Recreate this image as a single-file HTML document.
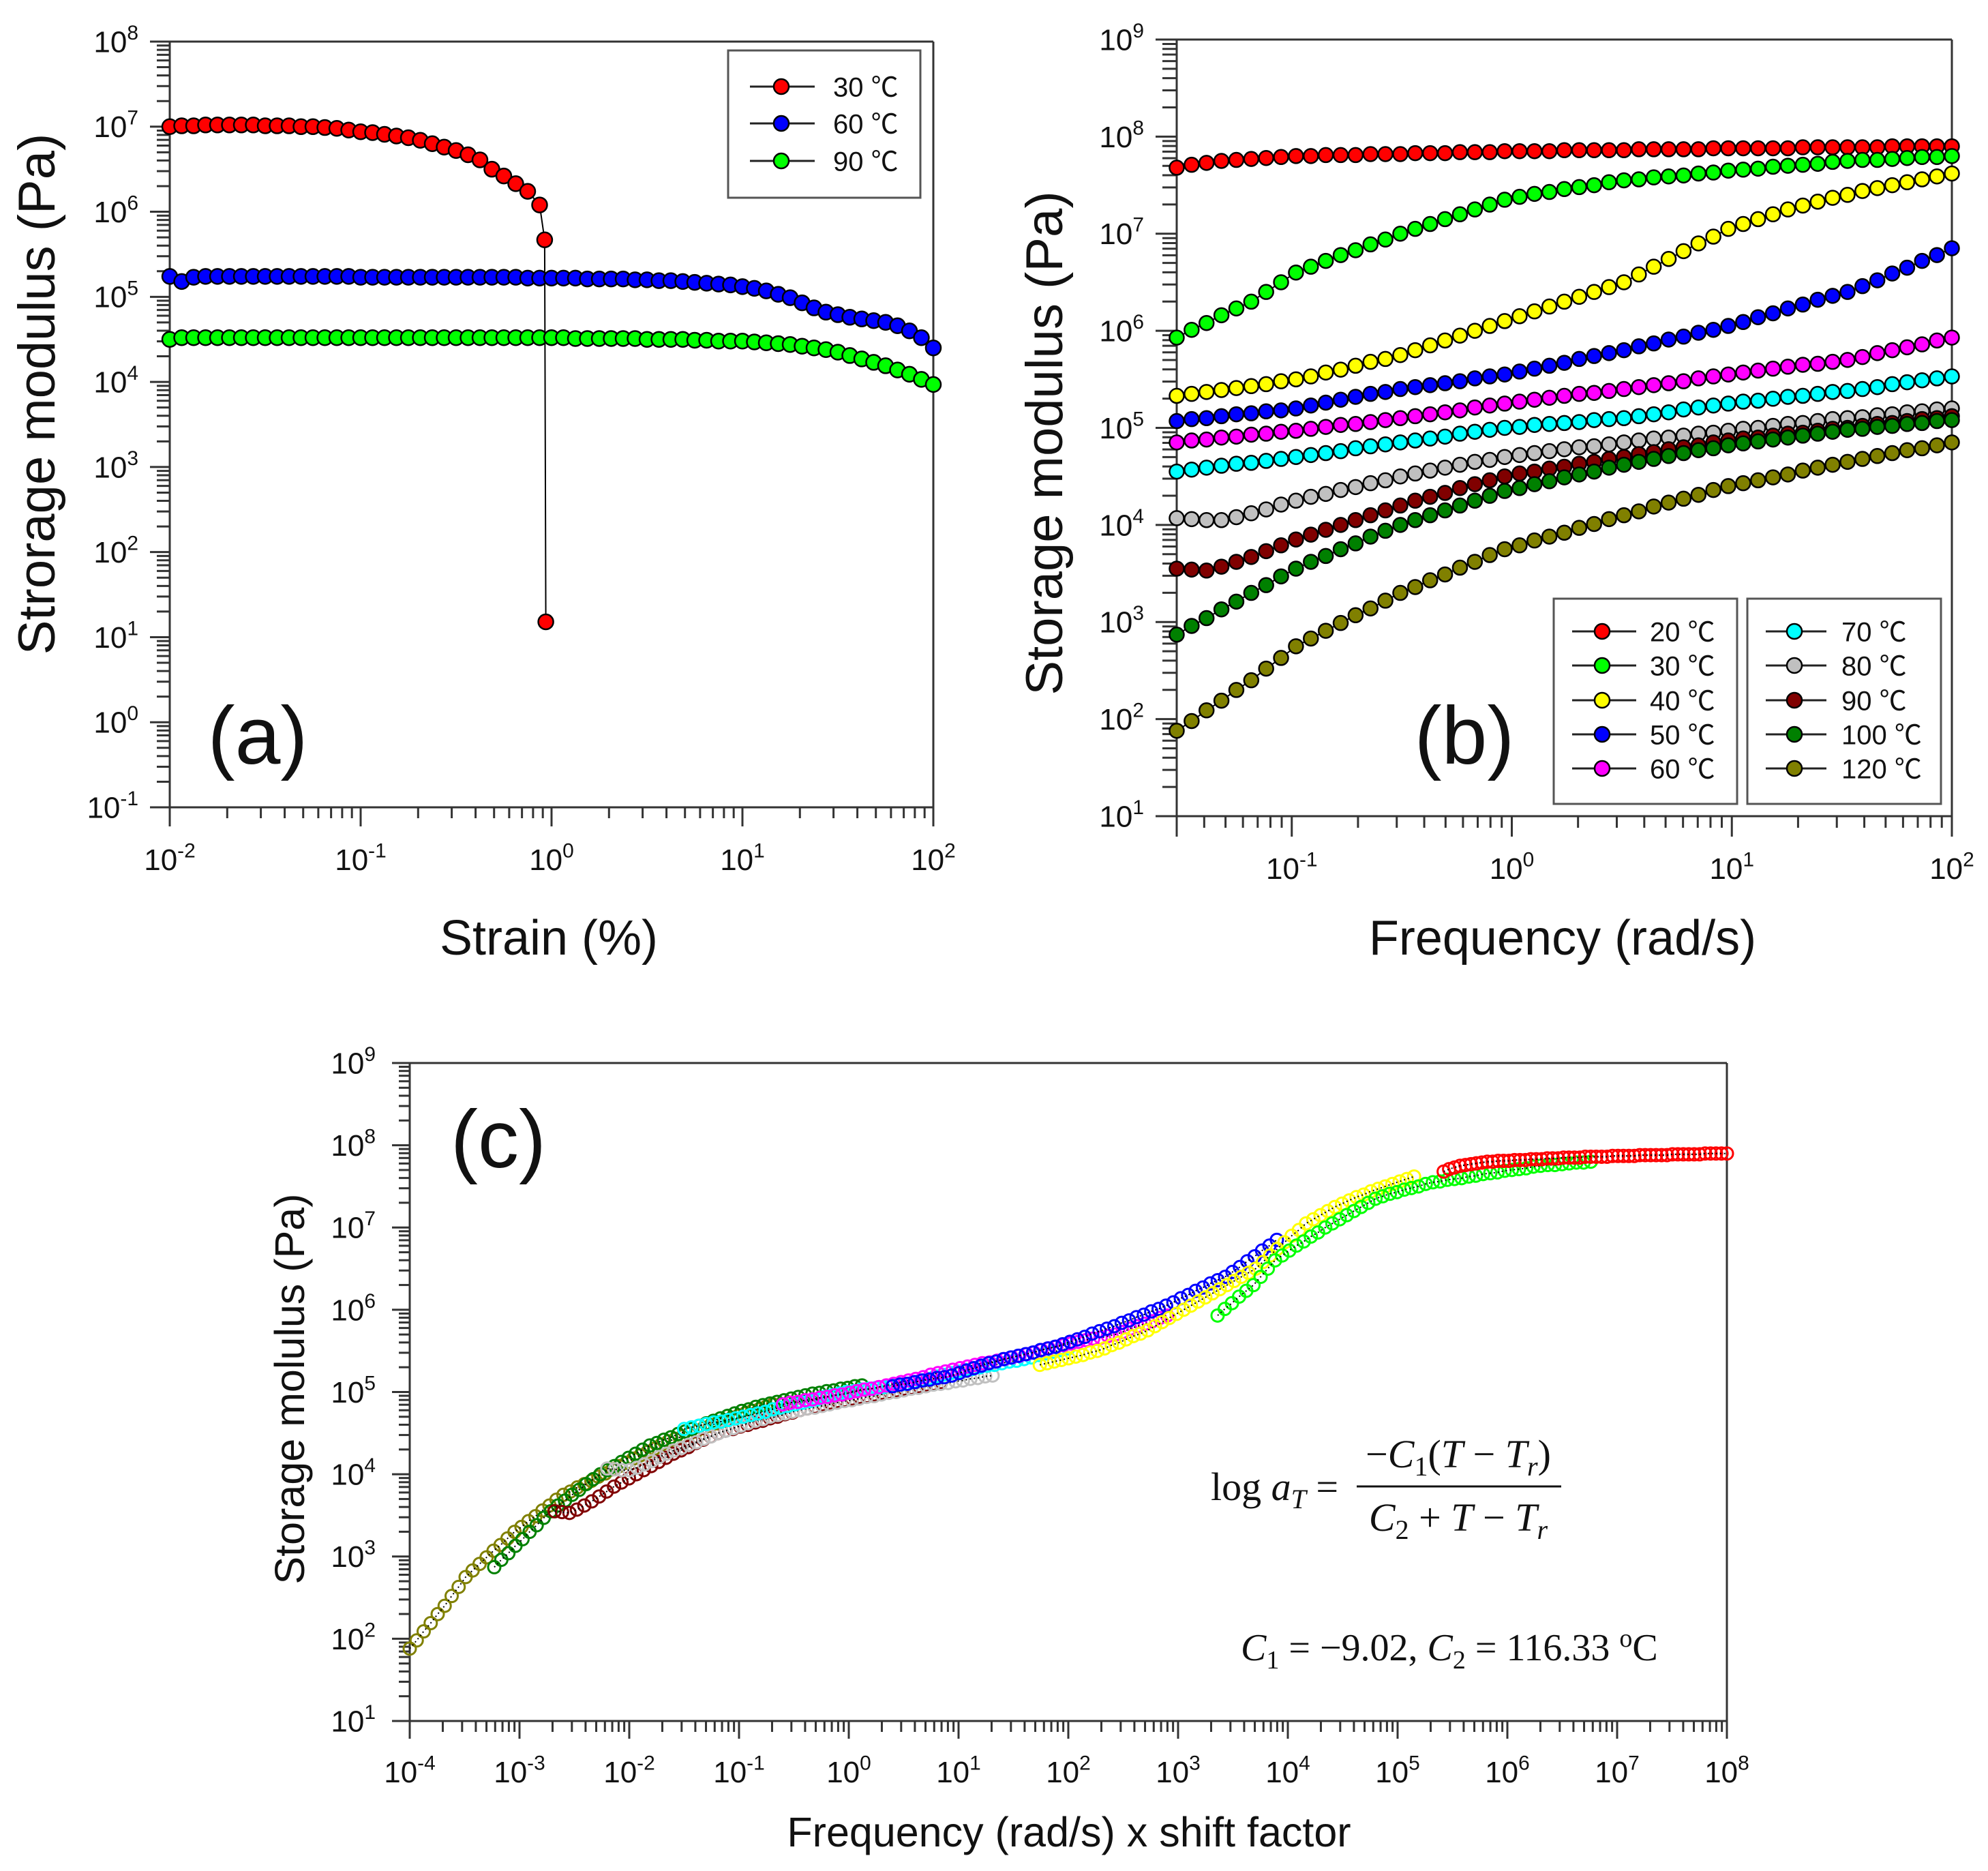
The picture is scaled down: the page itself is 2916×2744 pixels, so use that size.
<!DOCTYPE html>
<html><head><meta charset="utf-8">
<style>
html,body{margin:0;padding:0;background:#fff;}
svg{display:block;font-family:"Liberation Sans","Noto Sans CJK SC",sans-serif;}
</style></head>
<body>
<svg id="chart" xmlns="http://www.w3.org/2000/svg" width="2916" height="2744" viewBox="0 0 2916 2744"></svg>
<script>
// ---------- Panel (a) data: log10 G' (Pa) vs log-spaced strain ----------
const aRedLogG = [7.00,7.01,7.01,7.02,7.02,7.02,7.02,7.02,7.01,7.01,7.01,7.00,7.00,6.99,6.98,6.96,6.94,6.93,6.91,6.89,6.87,6.84,6.80,6.76,6.72,6.67,6.61,6.50,6.42,6.33,6.24,6.08];
const aRedTailLogX = [-0.036,-0.03];
const aRedTailLogG = [5.67,1.18];
const aBlueLogG = [5.24,5.18,5.23,5.24,5.24,5.24,5.24,5.24,5.24,5.24,5.24,5.24,5.24,5.24,5.24,5.24,5.23,5.23,5.23,5.23,5.23,5.23,5.23,5.23,5.23,5.23,5.23,5.23,5.23,5.23,5.22,5.22,5.22,5.22,5.22,5.21,5.21,5.21,5.21,5.20,5.20,5.19,5.19,5.18,5.17,5.16,5.15,5.14,5.12,5.10,5.07,5.03,4.99,4.93,4.87,4.82,4.79,4.76,4.74,4.72,4.70,4.66,4.60,4.52,4.40];
const aGreenLogG = [4.50,4.52,4.52,4.52,4.52,4.52,4.52,4.52,4.52,4.52,4.52,4.52,4.52,4.52,4.52,4.52,4.52,4.52,4.52,4.52,4.52,4.52,4.52,4.52,4.52,4.52,4.52,4.52,4.52,4.52,4.52,4.52,4.52,4.52,4.51,4.51,4.51,4.51,4.51,4.51,4.50,4.50,4.50,4.50,4.49,4.49,4.48,4.48,4.48,4.47,4.46,4.45,4.44,4.42,4.40,4.38,4.35,4.31,4.27,4.23,4.19,4.14,4.09,4.03,3.97];
const aLabels = ["30 \u2103","60 \u2103","90 \u2103"];

// ---------- Panel (b) data: log10 G' vs log-spaced frequency 0.03..100 rad/s ----------
const bLabels = ["20 \u2103","30 \u2103","40 \u2103","50 \u2103","60 \u2103","70 \u2103","80 \u2103","90 \u2103","100 \u2103","120 \u2103"];
const b20 = [7.68,7.71,7.73,7.75,7.76,7.77,7.78,7.79,7.80,7.80,7.81,7.81,7.81,7.82,7.82,7.82,7.83,7.83,7.83,7.84,7.84,7.84,7.85,7.85,7.85,7.85,7.86,7.86,7.86,7.86,7.86,7.87,7.87,7.87,7.87,7.87,7.88,7.88,7.88,7.88,7.88,7.88,7.89,7.89,7.89,7.89,7.89,7.89,7.90,7.90,7.90,7.90,7.90];
const b30 = [5.93,6.01,6.08,6.16,6.23,6.30,6.40,6.50,6.60,6.66,6.72,6.78,6.83,6.89,6.94,7.00,7.05,7.10,7.15,7.20,7.25,7.30,7.35,7.38,7.41,7.43,7.46,7.48,7.50,7.53,7.55,7.56,7.58,7.59,7.60,7.62,7.63,7.65,7.66,7.67,7.69,7.70,7.71,7.72,7.74,7.75,7.76,7.76,7.77,7.78,7.79,7.79,7.80];
const b40 = [5.33,5.35,5.37,5.39,5.41,5.43,5.45,5.48,5.50,5.53,5.57,5.60,5.64,5.68,5.71,5.75,5.80,5.85,5.90,5.95,6.00,6.05,6.10,6.15,6.20,6.25,6.30,6.35,6.40,6.45,6.50,6.58,6.66,6.74,6.82,6.90,6.97,7.05,7.10,7.15,7.20,7.25,7.29,7.33,7.37,7.40,7.44,7.47,7.50,7.53,7.56,7.59,7.62];
const b50 = [5.07,5.09,5.10,5.12,5.14,5.15,5.17,5.18,5.20,5.23,5.26,5.29,5.32,5.35,5.37,5.40,5.42,5.44,5.46,5.48,5.51,5.53,5.55,5.58,5.61,5.64,5.67,5.71,5.74,5.77,5.80,5.84,5.87,5.91,5.94,5.98,6.01,6.05,6.09,6.14,6.18,6.23,6.27,6.32,6.36,6.40,6.46,6.52,6.59,6.65,6.72,6.78,6.85];
const b60 = [4.85,4.87,4.88,4.90,4.91,4.93,4.94,4.96,4.97,4.99,5.01,5.03,5.04,5.06,5.08,5.10,5.12,5.14,5.16,5.18,5.21,5.23,5.25,5.27,5.29,5.31,5.33,5.35,5.36,5.38,5.40,5.42,5.44,5.46,5.48,5.51,5.53,5.55,5.57,5.59,5.61,5.63,5.65,5.66,5.68,5.70,5.73,5.77,5.80,5.83,5.86,5.90,5.93];
const b70 = [4.55,4.57,4.59,4.61,4.63,4.64,4.66,4.68,4.70,4.72,4.74,4.76,4.79,4.81,4.83,4.85,4.87,4.89,4.91,4.94,4.96,4.98,5.00,5.01,5.03,5.04,5.05,5.06,5.08,5.09,5.10,5.12,5.14,5.16,5.19,5.21,5.23,5.25,5.27,5.28,5.30,5.32,5.33,5.35,5.37,5.38,5.40,5.42,5.45,5.47,5.49,5.51,5.53];
const b80 = [4.07,4.06,4.05,4.05,4.08,4.12,4.16,4.21,4.25,4.29,4.32,4.36,4.39,4.43,4.46,4.50,4.53,4.56,4.59,4.62,4.65,4.67,4.70,4.72,4.74,4.76,4.78,4.80,4.81,4.83,4.85,4.87,4.89,4.90,4.92,4.94,4.95,4.97,4.99,5.00,5.02,5.04,5.05,5.07,5.09,5.10,5.11,5.13,5.14,5.16,5.17,5.19,5.20];
const b90 = [3.55,3.54,3.53,3.57,3.62,3.67,3.73,3.79,3.85,3.90,3.95,4.00,4.05,4.10,4.15,4.20,4.25,4.29,4.33,4.38,4.42,4.46,4.50,4.53,4.55,4.58,4.60,4.63,4.65,4.68,4.70,4.73,4.75,4.78,4.80,4.82,4.85,4.87,4.89,4.90,4.92,4.94,4.95,4.97,4.99,5.00,5.02,5.04,5.05,5.07,5.09,5.10,5.12];
const b100 = [2.87,2.96,3.04,3.13,3.21,3.30,3.38,3.47,3.55,3.62,3.68,3.75,3.81,3.88,3.94,4.00,4.05,4.10,4.15,4.20,4.25,4.30,4.35,4.38,4.42,4.45,4.49,4.52,4.55,4.59,4.62,4.65,4.68,4.71,4.74,4.77,4.79,4.82,4.84,4.86,4.88,4.90,4.92,4.94,4.96,4.98,4.99,5.01,5.02,5.04,5.05,5.07,5.08];
const b120 = [1.88,1.98,2.09,2.19,2.30,2.40,2.52,2.63,2.75,2.83,2.91,2.99,3.07,3.14,3.22,3.30,3.36,3.43,3.49,3.56,3.62,3.69,3.75,3.79,3.84,3.88,3.92,3.97,4.01,4.06,4.10,4.14,4.19,4.23,4.27,4.31,4.36,4.40,4.43,4.46,4.49,4.52,4.56,4.59,4.62,4.65,4.68,4.71,4.74,4.77,4.79,4.82,4.85];

// ---------- Panel (c) data: shifted frequency ranges (log10) per temperature ----------
const cStartLogX = [5.42,3.36,1.74,0.40,-0.60,-1.50,-2.20,-2.68,-3.23,-4.00];
const cEndLogX   = [8.00,6.76,5.15,3.90,2.90,2.00,1.31,0.84,0.12,-0.69];

const NS = 'http://www.w3.org/2000/svg';
const svg = document.getElementById('chart');
const COLORS = ['#ff0000','#00ff00','#ffff00','#0000ff','#ff00ff','#00ffff','#c0c0c0','#800000','#008000','#808000'];

function mk(tag, parent, attrs) {
  const e = document.createElementNS(NS, tag);
  for (const k in attrs) e.setAttribute(k, attrs[k]);
  parent.appendChild(e);
  return e;
}

function makePanel(P) {
  P.fx = v => P.x0 + (v - P.lx0) / (P.lx1 - P.lx0) * (P.x1 - P.x0);
  P.fy = v => P.yb - (v - P.ly0) / (P.ly1 - P.ly0) * (P.yb - P.yt);
  return P;
}

function powLabel(parent, x, y, exp, size, anchor, name) {
  const t = mk('text', parent, {x: x, y: y, 'font-size': size, 'text-anchor': anchor, fill: '#111'});
  
  
  const a = mk('tspan', t, {});
  a.textContent = '10';
  const b = mk('tspan', t, {dy: -size * 0.42, 'font-size': size * 0.68});
  b.textContent = String(exp);
  return t;
}

function drawAxes(P, g, o) {
  const fr = mk('g', g, {stroke: '#333', 'stroke-width': 3, fill: 'none'});
  
  
  mk('line', fr, {x1: P.x0, y1: P.yt, x2: P.x1, y2: P.yt});
  mk('line', fr, {x1: P.x1, y1: P.yt, x2: P.x1, y2: P.yb});
  const xa = mk('line', fr, {x1: P.x0 - o.yMaj, y1: P.yb, x2: P.x1, y2: P.yb});
  
  
  const ya = mk('line', fr, {x1: P.x0, y1: P.yt, x2: P.x0, y2: P.yb + o.xMaj});
  
  
  const tk = mk('g', g, {stroke: '#333', 'stroke-width': 3});
  
  
  for (let d = P.ly0; d <= P.ly1; d++) {
    const y = P.fy(d);
    mk('line', tk, {x1: P.x0 - o.yMaj, y1: y, x2: P.x0, y2: y});
    powLabel(g, P.x0 - o.yLabGap, y + o.ySize * 0.35, d, o.ySize, 'end', 'y-tick-label');
    if (d < P.ly1) for (let k = 2; k <= 9; k++) {
      const yy = P.fy(d + Math.log10(k));
      mk('line', tk, {x1: P.x0 - o.yMin, y1: yy, x2: P.x0, y2: yy});
    }
  }
  for (let d = Math.floor(P.lx0); d <= P.lx1; d++) {
    if (d >= P.lx0 - 1e-9) {
      const x = P.fx(d);
      mk('line', tk, {x1: x, y1: P.yb, x2: x, y2: P.yb + o.xMaj});
      powLabel(g, x, P.yb + o.xLabGap, d, o.xSize, 'middle', 'x-tick-label');
    }
    if (d < P.lx1) for (let k = 2; k <= 9; k++) {
      const lv = d + Math.log10(k);
      if (lv < P.lx0 - 1e-9 || lv > P.lx1) continue;
      const x = P.fx(lv);
      mk('line', tk, {x1: x, y1: P.yb, x2: x, y2: P.yb + o.xMin});
    }
  }
}

function text(parent, x, y, str, size, attrs, name) {
  const t = mk('text', parent, Object.assign({x: x, y: y, 'font-size': size, fill: '#111'}, attrs || {}));
  
  
  t.textContent = str;
  return t;
}

function series(P, g, lxs, lys, color, r, name) {
  const sg = mk('g', g, {});
  
  
  const pts = lxs.map((lx, i) => P.fx(lx).toFixed(1) + ',' + P.fy(lys[i]).toFixed(1)).join(' ');
  const pl = mk('polyline', sg, {points: pts, fill: 'none', stroke: '#000', 'stroke-width': 2});
  
  
  lxs.forEach((lx, i) => {
    const c = mk('circle', sg, {cx: P.fx(lx), cy: P.fy(lys[i]), r: r, fill: color, stroke: '#000', 'stroke-width': 2.5});
    
    
  });
}

function grid(n, a, b) { const out = []; for (let i = 0; i < n; i++) out.push(a + i * (b - a) / (n - 1)); return out; }

function legendEntry(g, x1, x2, mx, tx, y, color, label, size, name) {
  const e = mk('g', g, {});
  
  
  mk('line', e, {x1: x1, y1: y, x2: x2, y2: y, stroke: '#222', 'stroke-width': 3});
  mk('circle', e, {cx: mx, cy: y, r: 11, fill: color, stroke: '#000', 'stroke-width': 2.5});
  const t = mk('text', e, {x: tx, y: y + size * 0.36, 'font-size': size, fill: '#111'});
  t.textContent = label;
}

// ================= Panel (a) =================
const A = makePanel({x0: 249, x1: 1369, lx0: -2, lx1: 2, yb: 1184, yt: 61, ly0: -1, ly1: 8});
const gA = mk('g', svg, {});


drawAxes(A, gA, {yMaj: 29, yMin: 19, xMaj: 28, xMin: 16, ySize: 44, xSize: 44, yLabGap: 46, xLabGap: 92});
text(gA, 805, 1400, 'Strain (%)', 72, {'text-anchor': 'middle'}, 'x-axis-title');
text(gA, 0, 0, 'Strorage modulus (Pa)', 76, {'text-anchor': 'middle', transform: 'translate(80,578) rotate(-90)'}, 'y-axis-title');
text(gA, 378, 1120, '(a)', 120, {'text-anchor': 'middle'}, 'panel-label-a');
{
  const redX = aRedLogG.map((v, i) => -2 + i / 16).concat(aRedTailLogX);
  const redY = aRedLogG.concat(aRedTailLogG);
  series(A, gA, redX, redY, COLORS[0], 11, 'series-30c');
  series(A, gA, grid(aBlueLogG.length, -2, 2), aBlueLogG, COLORS[3], 11, 'series-60c');
  series(A, gA, grid(aGreenLogG.length, -2, 2), aGreenLogG, COLORS[1], 11, 'series-90c');
  const lg = mk('g', gA, {});
  
  
  mk('rect', lg, {x: 1068, y: 74, width: 282, height: 216, fill: '#fff', stroke: '#555', 'stroke-width': 3});
  const aCols = [COLORS[0], COLORS[3], COLORS[1]];
  [127, 181, 236].forEach((y, i) => legendEntry(lg, 1100, 1195, 1146, 1222, y, aCols[i], aLabels[i], 40, 'legend-entry'));
}

// ================= Panel (b) =================
const B = makePanel({x0: 1726, x1: 2863, lx0: Math.log10(0.03), lx1: 2, yb: 1197, yt: 58, ly0: 1, ly1: 9});
const gB = mk('g', svg, {});


drawAxes(B, gB, {yMaj: 31, yMin: 21, xMaj: 30, xMin: 17, ySize: 44, xSize: 44, yLabGap: 48, xLabGap: 92});
text(gB, 2292, 1400, 'Frequency (rad/s)', 72, {'text-anchor': 'middle'}, 'x-axis-title');
text(gB, 0, 0, 'Storage modulus (Pa)', 76, {'text-anchor': 'middle', transform: 'translate(1558,650) rotate(-90)'}, 'y-axis-title');
text(gB, 2148, 1120, '(b)', 120, {'text-anchor': 'middle'}, 'panel-label-b');
const bSeries = [b20, b30, b40, b50, b60, b70, b80, b90, b100, b120];
bSeries.forEach((vals, s) => {
  series(B, gB, grid(vals.length, B.lx0, 2), vals, COLORS[s], 10.5, 'series-' + bLabels[s].split(' ')[0] + 'c');
});
{
  const lg = mk('g', gB, {});
  
  
  mk('rect', lg, {x: 2279, y: 878, width: 269, height: 301, fill: '#fff', stroke: '#555', 'stroke-width': 3});
  mk('rect', lg, {x: 2563, y: 878, width: 284, height: 301, fill: '#fff', stroke: '#555', 'stroke-width': 3});
  const rows = [926, 976, 1027, 1077, 1127];
  for (let i = 0; i < 10; i++) {
    const y = rows[i % 5];
    if (i < 5) legendEntry(lg, 2306, 2400, 2350, 2420, y, COLORS[i], bLabels[i], 40, 'legend-entry');
    else legendEntry(lg, 2590, 2679, 2632, 2701, y, COLORS[i], bLabels[i], 40, 'legend-entry');
  }
}

// ================= Panel (c) =================
const C = makePanel({x0: 601, x1: 2533, lx0: -4, lx1: 8, yb: 2524, yt: 1559, ly0: 1, ly1: 9});
const gC = mk('g', svg, {});


drawAxes(C, gC, {yMaj: 26, yMin: 16, xMaj: 26, xMin: 16, ySize: 44, xSize: 44, yLabGap: 50, xLabGap: 90});
text(gC, 1568, 2708, 'Frequency (rad/s) x shift factor', 61, {'text-anchor': 'middle'}, 'x-axis-title');
text(gC, 0, 0, 'Storage molulus (Pa)', 61, {'text-anchor': 'middle', transform: 'translate(446,2037) rotate(-90)'}, 'y-axis-title');
text(gC, 731, 1712, '(c)', 120, {'text-anchor': 'middle'}, 'panel-label-c');
for (let s = bSeries.length - 1; s >= 0; s--) {
  const vals = bSeries[s];
  const lxs = grid(vals.length, cStartLogX[s], cEndLogX[s]);
  const sg = mk('g', gC, {});
  
  
  lxs.forEach((lx, i) => {
    const c = mk('circle', sg, {cx: C.fx(lx), cy: C.fy(vals[i]), r: 9, fill: 'none', stroke: COLORS[s], 'stroke-width': 3});
    
    
  });
  const pts = lxs.map((lx, i) => C.fx(lx).toFixed(1) + ',' + C.fy(vals[i]).toFixed(1)).join(' ');
  const pl = mk('polyline', sg, {points: pts, fill: 'none', stroke: '#000', 'stroke-width': 2, 'stroke-dasharray': '2 4'});
  
  
}
{
  const eq = mk('g', gC, {'font-family': '"Liberation Serif", serif', fill: '#111'});
  
  
  const t1 = mk('text', eq, {x: 1776, y: 2200, 'font-size': 58});
  t1.innerHTML = 'log <tspan font-style="italic">a</tspan><tspan font-style="italic" font-size="40" dy="12">T</tspan><tspan dy="-12"> =</tspan>';
  const t2 = mk('text', eq, {x: 2139, y: 2152, 'font-size': 58, 'text-anchor': 'middle'});
  t2.innerHTML = '\u2212<tspan font-style="italic">C</tspan><tspan font-size="40" dy="12">1</tspan><tspan dy="-12">(</tspan><tspan font-style="italic">T</tspan> \u2212 <tspan font-style="italic">T</tspan><tspan font-style="italic" font-size="40" dy="12">r</tspan><tspan dy="-12">)</tspan>';
  mk('line', eq, {x1: 1990, y1: 2180, x2: 2290, y2: 2180, stroke: '#111', 'stroke-width': 3});
  const t3 = mk('text', eq, {x: 2139, y: 2245, 'font-size': 58, 'text-anchor': 'middle'});
  t3.innerHTML = '<tspan font-style="italic">C</tspan><tspan font-size="40" dy="12">2</tspan><tspan dy="-12"> + </tspan><tspan font-style="italic">T</tspan> \u2212 <tspan font-style="italic">T</tspan><tspan font-style="italic" font-size="40" dy="12">r</tspan>';
  const t4 = mk('text', eq, {x: 1820, y: 2435, 'font-size': 56});
  
  
  t4.innerHTML = '<tspan font-style="italic">C</tspan><tspan font-size="38" dy="12">1</tspan><tspan dy="-12"> = \u22129.02, </tspan><tspan font-style="italic">C</tspan><tspan font-size="38" dy="12">2</tspan><tspan dy="-12"> = 116.33 </tspan><tspan font-size="38" dy="-20">o</tspan><tspan dy="20">C</tspan>';
}
</script>
</body></html>
